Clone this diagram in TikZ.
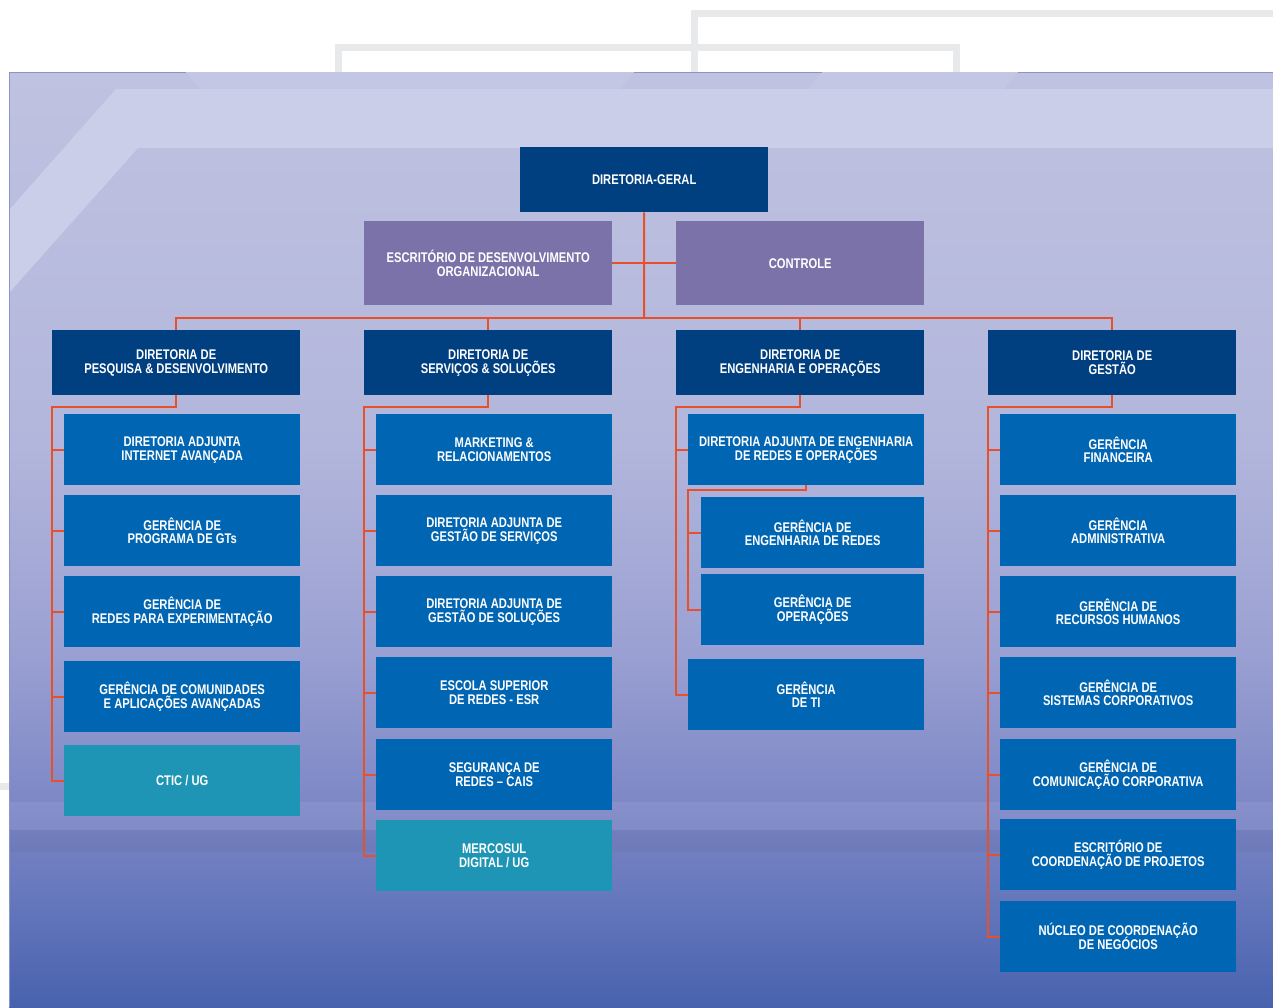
\documentclass[tikz,border=0pt]{standalone}
\usepackage{fontspec}
\usepackage{tikz}
\newfontfamily\orgfont{Liberation Sans}[FakeStretch=0.8]
\newcommand\orgtext{\orgfont\bfseries\fontsize{14}{13.8}\selectfont\lineskiplimit=-20pt\relax}

\definecolor{navy}{HTML}{003F80}
\definecolor{midblue}{HTML}{0066B3}
\definecolor{ugteal}{HTML}{1E95B4}
\definecolor{lilac}{HTML}{7A72A8}
\definecolor{linkred}{HTML}{E8502A}
\definecolor{greyline}{HTML}{E8E9EB}
\definecolor{bgtop}{HTML}{BFC2E0}
\definecolor{bgstrip}{HTML}{C4C7E4}
\definecolor{bgband}{HTML}{CACEE8}
\definecolor{bgA}{HTML}{B2B6DC}
\definecolor{bgB}{HTML}{9AA0D2}
\definecolor{bgC}{HTML}{7E88C6}
\definecolor{bgD}{HTML}{6577BC}
\definecolor{bgbot}{HTML}{4862AE}
\definecolor{bgedge}{HTML}{8A93CC}

\pgfdeclareverticalshading{panelshade}{100bp}{color(0bp)=(bgbot); color(25bp)=(bgbot);
  color(30.7bp)=(bgD); color(36bp)=(bgC); color(44bp)=(bgB); color(55bp)=(bgA);
  color(75bp)=(bgtop); color(100bp)=(bgtop)}

\tikzset{
  orgbox/.style={rectangle, inner sep=0pt, anchor=north west, text=white, align=center,
                 font=\orgtext},
  dirbox/.style={orgbox, fill=navy, minimum width=248pt, minimum height=65pt},
  staffbox/.style={orgbox, fill=lilac, minimum width=248pt, minimum height=84pt},
  unitbox/.style={orgbox, fill=midblue, minimum width=236pt, minimum height=71pt},
  subbox/.style={orgbox, fill=midblue, minimum width=223pt, minimum height=71pt},
  ugbox/.style={unitbox, fill=ugteal},
  link/.style={draw=linkred, line width=2pt},
}

\begin{document}
\begin{tikzpicture}[x=1pt,y=-1pt]
	\useasboundingbox (0,0) rectangle (1273,1007);

	% background
	\fill[white] (0,0) rectangle (1273,1007);
	\draw[greyline, line width=7pt] (338,72) -- (338,47) -- (956,47) -- (956,72);
	\draw[greyline, line width=7pt] (694,72) -- (694,13) -- (1273,13);
	\fill[greyline] (0,783) rectangle (9,790);
	\shade[shading=panelshade] (9,72) rectangle (1273,1007);
	\fill[bgstrip] (186,72) -- (634,72) -- (620,89) -- (201,89) -- cycle;
	\fill[bgstrip] (822,72) -- (1018,72) -- (1004,89) -- (808,89) -- cycle;
	\fill[bgband] (116,89) -- (1273,89) -- (1273,148) -- (138,148) -- (9,293) -- (9,210) -- cycle;
	\fill[white, opacity=0.07] (9,802) rectangle (1273,830);
	\fill[black, opacity=0.03] (9,830) rectangle (1273,852);
	\draw[bgedge, line width=1pt] (9,72.5) -- (186,72.5) (634,72.5) -- (822,72.5) (1018,72.5) -- (1273,72.5);
	\draw[bgedge, line width=1pt] (9.5,72) -- (9.5,1007);

	% top level
	\node[dirbox] (dg) at (520,147) {DIRETORIA-GERAL};
	\node[staffbox] (edo) at (364,221) {ESCRITÓRIO DE DESENVOLVIMENTO\\ORGANIZACIONAL};
	\node[staffbox] (ctrl) at (676,221) {CONTROLE};

	% diretorias
	\node[dirbox] (pd) at (52,330) {DIRETORIA DE\\PESQUISA \& DESENVOLVIMENTO};
	\node[dirbox] (ss) at (364,330) {DIRETORIA DE\\SERVIÇOS \& SOLUÇÕES};
	\node[dirbox] (eo) at (676,330) {DIRETORIA DE\\ENGENHARIA E OPERAÇÕES};
	\node[dirbox] (ge) at (988,330) {DIRETORIA DE\\GESTÃO};

	% pesquisa & desenvolvimento
	\node[unitbox] (daia) at (64,414) {DIRETORIA ADJUNTA\\INTERNET AVANÇADA};
	\node[unitbox] (gpgt) at (64,495) {GERÊNCIA DE\\PROGRAMA DE GTs};
	\node[unitbox] (gre) at (64,576) {GERÊNCIA DE\\REDES PARA EXPERIMENTAÇÃO};
	\node[unitbox] (gca) at (64,661) {GERÊNCIA DE COMUNIDADES\\E APLICAÇÕES AVANÇADAS};
	\node[ugbox] (ctic) at (64,745) {CTIC / UG};

	% servicos & solucoes
	\node[unitbox] (mkt) at (376,414) {MARKETING \&\\RELACIONAMENTOS};
	\node[unitbox] (dags) at (376,495) {DIRETORIA ADJUNTA DE\\GESTÃO DE SERVIÇOS};
	\node[unitbox] (dagsol) at (376,576) {DIRETORIA ADJUNTA DE\\GESTÃO DE SOLUÇÕES};
	\node[unitbox] (esr) at (376,657) {ESCOLA SUPERIOR\\DE REDES - ESR};
	\node[unitbox] (cais) at (376,739) {SEGURANÇA DE\\REDES – CAIS};
	\node[ugbox] (mercosul) at (376,820) {MERCOSUL\\DIGITAL / UG};

	% engenharia e operacoes
	\node[unitbox] (daero) at (688,414) {DIRETORIA ADJUNTA DE ENGENHARIA\\DE REDES E OPERAÇÕES};
	\node[subbox] (ger) at (701,497) {GERÊNCIA DE\\ENGENHARIA DE REDES};
	\node[subbox] (gop) at (701,574) {GERÊNCIA DE\\OPERAÇÕES};
	\node[unitbox] (gti) at (688,659) {GERÊNCIA\\DE TI};

	% gestao
	\node[unitbox] (gf) at (1000,414) {GERÊNCIA\\FINANCEIRA};
	\node[unitbox] (gadm) at (1000,495) {GERÊNCIA\\ADMINISTRATIVA};
	\node[unitbox] (grh) at (1000,576) {GERÊNCIA DE\\RECURSOS HUMANOS};
	\node[unitbox] (gsc) at (1000,657) {GERÊNCIA DE\\SISTEMAS CORPORATIVOS};
	\node[unitbox] (gcc) at (1000,739) {GERÊNCIA DE\\COMUNICAÇÃO CORPORATIVA};
	\node[unitbox] (ecp) at (1000,819) {ESCRITÓRIO DE\\COORDENAÇÃO DE PROJETOS};
	\node[unitbox] (ncn) at (1000,901) {NÚCLEO DE COORDENAÇÃO\\DE NEGÓCIOS};

	% connectors
	\coordinate (bus) at (644,318);
	\coordinate (pdbus) at (52,407);
	\coordinate (ssbus) at (364,407);
	\coordinate (eobus) at (676,407);
	\coordinate (gebus) at (988,407);
	\coordinate (daerobus) at (688,490);

	\begin{scope}[every path/.style={link}]
		\path (dg.south) -- (bus);
		\path (edo.east) -- (ctrl.west);
		\path (pd.north) |- (ge.north |- bus) -- (ge.north);
		\path (ss.north) -- (ss.north |- bus);
		\path (eo.north) -- (eo.north |- bus);

		\path (pd.south) |- (pdbus) |- (ctic.west);
		\foreach \n in {daia,gpgt,gre,gca}
			\path (pdbus |- \n.west) -- (\n.west);

		\path (ss.south) |- (ssbus) |- (mercosul.west);
		\foreach \n in {mkt,dags,dagsol,esr,cais}
			\path (ssbus |- \n.west) -- (\n.west);

		\path (eo.south) |- (eobus) |- (gti.west);
		\path (eobus |- daero.west) -- (daero.west);
		\path (daero.south) |- (daerobus) |- (gop.west);
		\path (daerobus |- ger.west) -- (ger.west);

		\path (ge.south) |- (gebus) |- (ncn.west);
		\foreach \n in {gf,gadm,grh,gsc,gcc,ecp}
			\path (gebus |- \n.west) -- (\n.west);
	\end{scope}
\end{tikzpicture}
\end{document}
